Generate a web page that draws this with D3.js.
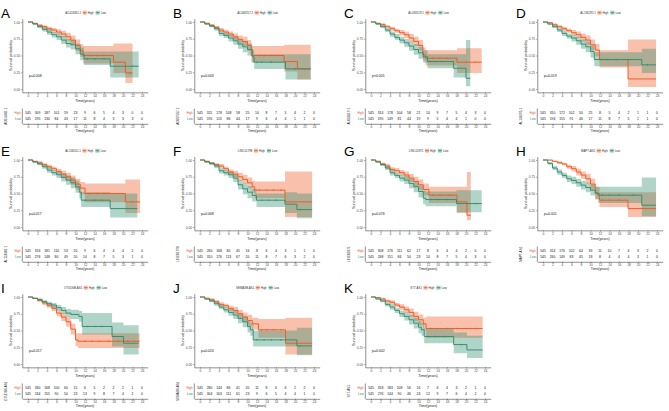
<!DOCTYPE html>
<html>
<head>
<meta charset="utf-8">
<script src="https://cdn.jsdelivr.net/npm/d3@7"></script>
<style>
  body { margin: 0; background: #fff; }
  svg { display: block; }
  text { font-family: "Liberation Sans", Arial, sans-serif; }
</style>
</head>
<body>
<svg width="669" height="411"></svg>
<script>
// ### Data
var letters = ["A","B","C","D","E","F","G","H","I","J","K"];
var genes = ["AC024361.1","AC069257.1","AL033519.1","AL136295.1","AL158201.1","LINC01798",
             "LINC01871","MAPT-AS1","OTUD6B-AS1","SEMA3B-AS1","ST7-AS1"];
var pvals = ["p=0.008","p=0.043","p<0.001","p=0.019","p=0.017","p=0.068",
             "p=0.076","p=0.001","p=0.017","p=0.024","p=0.002"];
var riskTimes = [0,2,4,6,8,10,12,14,16,18,20,22,24];
var riskHigh = [
  [545,309,187,101,59,23,9,6,5,4,3,0,0],
  [545,311,178,108,58,25,10,8,7,5,4,2,0],
  [545,314,178,104,58,21,10,9,7,5,4,3,0],
  [545,310,172,102,50,25,8,5,4,2,1,1,0],
  [545,316,181,110,53,20,9,6,4,4,4,2,0],
  [545,260,168,80,45,16,8,6,4,3,1,1,0],
  [545,308,176,111,62,17,8,6,4,4,2,0,0],
  [545,314,176,102,64,33,11,10,7,4,3,2,0],
  [545,330,168,100,60,15,6,5,2,2,2,1,0],
  [545,280,144,86,41,20,11,8,6,6,2,2,0],
  [545,318,183,108,56,16,7,6,4,3,2,1,0]
];
var riskLow = [
  [545,195,130,84,43,17,11,8,4,3,3,3,0],
  [545,195,113,86,44,17,9,6,4,4,1,1,0],
  [545,195,149,81,44,19,9,5,4,4,1,0,0],
  [545,194,155,91,46,17,11,8,7,5,1,1,0],
  [545,276,148,80,49,20,10,8,7,5,3,1,0],
  [545,310,176,113,67,20,11,8,7,6,3,2,0],
  [545,268,151,84,50,23,10,8,7,5,4,3,0],
  [545,260,149,83,45,18,8,4,4,4,3,1,0],
  [545,244,155,90,50,23,13,9,8,7,4,2,0],
  [545,304,163,111,61,23,9,6,5,4,4,1,0],
  [545,276,144,90,46,24,12,9,7,6,4,2,0]
];
// [time, survival, lower CI, upper CI]
var survHigh = [
  [[0,1,1,1],[1,.98,.97,.99],[2,.95,.93,.97],[3,.93,.90,.95],[4,.90,.87,.93],[5,.88,.84,.91],[6,.85,.81,.89],[7,.82,.77,.87],[8,.78,.72,.84],[9,.73,.66,.80],[10,.65,.57,.74],[11,.57,.48,.67],[11.6,.50,.38,.64],[18,.40,.24,.68],[20.5,.24,.09,.68],[22,.24,.09,.68]],
  [[0,1,1,1],[1,.98,.97,.99],[2,.95,.93,.97],[3,.92,.90,.94],[4,.88,.85,.91],[5,.85,.81,.88],[6,.82,.78,.86],[7,.78,.73,.83],[8,.74,.68,.80],[9,.71,.64,.78],[10,.65,.57,.73],[10.8,.50,.40,.64],[17.7,.41,.26,.66],[20.5,.30,.14,.66],[23.3,.30,.14,.66]],
  [[0,1,1,1],[1,.98,.97,.99],[2,.96,.94,.98],[3,.93,.91,.95],[4,.90,.87,.93],[5,.87,.84,.90],[6,.84,.80,.88],[7,.81,.76,.86],[8,.76,.70,.82],[9,.71,.64,.78],[10,.65,.57,.73],[10.9,.51,.42,.62],[11.5,.46,.35,.58],[18.1,.40,.24,.61],[23.3,.40,.24,.61]],
  [[0,1,1,1],[1,.99,.98,1],[2,.96,.94,.98],[3,.93,.91,.95],[4,.90,.87,.93],[5,.87,.84,.90],[6,.84,.80,.88],[7,.81,.76,.86],[8,.77,.71,.83],[9,.73,.66,.80],[10,.66,.58,.74],[11,.58,.49,.67],[11.9,.44,.32,.58],[17.9,.15,.03,.74],[23.8,.15,.03,.74]],
  [[0,1,1,1],[1,.98,.97,.99],[2,.96,.94,.98],[3,.93,.91,.95],[4,.90,.87,.93],[5,.87,.84,.90],[6,.83,.79,.87],[7,.79,.74,.84],[8,.75,.69,.81],[9,.70,.63,.77],[10,.64,.56,.72],[11,.58,.49,.67],[12,.50,.37,.65],[20.5,.375,.21,.71],[23.6,.375,.21,.71]],
  [[0,1,1,1],[1,.98,.97,.99],[2,.95,.93,.97],[3,.93,.91,.95],[4,.91,.88,.94],[5,.87,.84,.90],[6,.82,.78,.86],[7,.79,.74,.84],[8,.75,.69,.81],[9,.71,.64,.78],[10,.66,.58,.74],[11,.60,.51,.69],[11.5,.55,.43,.68],[17.9,.375,.15,.83],[23.6,.375,.15,.83]],
  [[0,1,1,1],[1,.98,.97,.99],[2,.94,.92,.96],[3,.91,.88,.94],[4,.86,.83,.89],[5,.84,.80,.88],[6,.81,.77,.85],[7,.775,.72,.83],[8,.73,.67,.79],[9,.68,.61,.75],[10,.63,.55,.71],[11,.56,.47,.65],[12.2,.475,.36,.60],[18.1,.375,.21,.60],[20.2,.175,.10,.82],[21,.175,.10,.82]],
  [[0,1,1,1],[1,1,.99,1],[2,.98,.97,.99],[3,.96,.94,.98],[4,.94,.92,.96],[5,.90,.87,.93],[6,.87,.83,.91],[7,.82,.77,.87],[8,.775,.72,.83],[9,.72,.65,.79],[10,.64,.56,.72],[11,.50,.41,.60],[11.9,.40,.30,.52],[17.9,.275,.15,.52],[23.8,.275,.15,.52]],
  [[0,1,1,1],[1,.98,.97,.99],[2,.95,.93,.97],[3,.91,.88,.94],[4,.87,.84,.90],[5,.83,.79,.87],[6,.76,.71,.81],[7,.70,.64,.76],[8,.63,.56,.70],[9,.52,.44,.60],[10,.36,.27,.46],[10.5,.34,.24,.46],[23.5,.34,.24,.46]],
  [[0,1,1,1],[1,.98,.97,.99],[2,.96,.94,.98],[3,.93,.91,.95],[4,.89,.86,.92],[5,.87,.84,.90],[6,.83,.79,.87],[7,.80,.75,.85],[8,.75,.69,.81],[9,.70,.63,.77],[10,.65,.57,.73],[11,.60,.51,.69],[12.3,.51,.39,.67],[18,.31,.14,.69],[23.6,.31,.14,.69]],
  [[0,1,1,1],[1,.99,.98,1],[2,.97,.95,.99],[3,.94,.92,.96],[4,.92,.89,.95],[5,.88,.85,.91],[6,.85,.81,.89],[7,.81,.76,.86],[8,.77,.71,.83],[9,.71,.64,.78],[10,.66,.58,.74],[11,.60,.51,.69],[11.6,.53,.39,.71],[23.5,.53,.39,.71]]
];
var survLow = [
  [[0,1,1,1],[1,.97,.96,.98],[2,.93,.91,.95],[3,.89,.86,.92],[4,.85,.81,.89],[5,.81,.77,.85],[6,.78,.73,.83],[7,.73,.67,.79],[8,.68,.62,.75],[9,.66,.59,.73],[10,.60,.52,.68],[11,.52,.43,.62],[11.8,.45,.36,.56],[17.3,.34,.17,.56],[23.3,.34,.17,.56]],
  [[0,1,1,1],[1,.97,.96,.98],[2,.94,.92,.96],[3,.90,.87,.93],[4,.83,.79,.87],[5,.80,.76,.84],[6,.76,.71,.81],[7,.72,.66,.78],[8,.67,.60,.74],[9,.63,.55,.71],[10,.59,.50,.68],[11,.48,.39,.58],[11.4,.40,.30,.52],[18,.30,.14,.52],[23.3,.30,.14,.52]],
  [[0,1,1,1],[1,.97,.96,.98],[2,.93,.91,.95],[3,.88,.85,.91],[4,.82,.78,.86],[5,.77,.73,.82],[6,.73,.68,.78],[7,.69,.63,.75],[8,.64,.57,.71],[9,.59,.51,.67],[10,.54,.45,.63],[11,.48,.39,.58],[11.9,.41,.31,.52],[17.4,.31,.17,.52],[20,.16,.04,.73],[20.9,.16,.04,.73]],
  [[0,1,1,1],[1,.97,.96,.98],[2,.93,.91,.95],[3,.88,.85,.91],[4,.83,.79,.87],[5,.79,.75,.83],[6,.76,.71,.81],[7,.72,.66,.78],[8,.67,.60,.74],[9,.63,.55,.71],[10,.56,.47,.65],[10.8,.44,.34,.55],[20.8,.36,.24,.60],[23.8,.36,.24,.60]],
  [[0,1,1,1],[1,.97,.96,.98],[2,.94,.92,.96],[3,.90,.87,.93],[4,.85,.81,.89],[5,.81,.77,.85],[6,.78,.73,.83],[7,.74,.68,.80],[8,.70,.63,.77],[9,.66,.58,.74],[10,.60,.51,.69],[10.8,.52,.43,.62],[11.2,.40,.30,.52],[17.3,.275,.14,.50],[23,.275,.14,.50]],
  [[0,1,1,1],[1,.97,.96,.98],[2,.95,.93,.97],[3,.91,.88,.94],[4,.84,.80,.88],[5,.81,.77,.85],[6,.78,.73,.83],[7,.73,.67,.79],[8,.63,.56,.70],[9,.57,.49,.65],[10,.52,.43,.61],[11,.47,.38,.57],[11.9,.40,.30,.50],[17.9,.34,.21,.52],[20.4,.26,.13,.50],[23.6,.26,.13,.50]],
  [[0,1,1,1],[1,.97,.96,.98],[2,.93,.91,.95],[3,.88,.85,.91],[4,.81,.77,.85],[5,.77,.73,.81],[6,.73,.68,.78],[7,.70,.64,.76],[8,.65,.58,.72],[9,.60,.52,.68],[10,.53,.44,.62],[11,.43,.34,.54],[11.5,.41,.31,.53],[18,.35,.22,.55],[23.3,.35,.22,.55]],
  [[0,1,1,1],[1,.95,.93,.97],[2,.88,.85,.91],[3,.82,.78,.86],[4,.77,.73,.81],[5,.72,.67,.77],[6,.695,.64,.75],[7,.66,.60,.72],[8,.625,.56,.69],[9,.59,.52,.66],[10,.55,.47,.63],[11,.51,.42,.60],[11.6,.475,.36,.60],[20.8,.325,.16,.74],[23.8,.325,.16,.74]],
  [[0,1,1,1],[1,.98,.97,.99],[2,.96,.94,.98],[3,.93,.91,.95],[4,.90,.87,.93],[5,.88,.84,.91],[6,.84,.80,.88],[7,.80,.75,.85],[8,.76,.70,.82],[9,.74,.67,.81],[10.7,.71,.63,.79],[11.4,.56,.44,.76],[17.7,.41,.26,.62],[20.1,.31,.14,.58],[23.3,.31,.14,.58]],
  [[0,1,1,1],[1,.97,.96,.98],[2,.94,.92,.96],[3,.90,.87,.93],[4,.85,.82,.88],[5,.81,.77,.85],[6,.77,.72,.82],[7,.73,.67,.79],[8,.68,.61,.75],[9,.63,.55,.71],[10,.56,.47,.65],[10.6,.51,.42,.61],[11.2,.36,.26,.50],[20.4,.27,.13,.54],[23.6,.27,.13,.54]],
  [[0,1,1,1],[1,.97,.96,.98],[2,.94,.92,.96],[3,.89,.86,.92],[4,.85,.81,.89],[5,.80,.76,.84],[6,.75,.70,.80],[7,.71,.65,.77],[8,.66,.59,.73],[9,.61,.53,.69],[10,.55,.46,.64],[10.6,.51,.42,.61],[11.2,.41,.31,.53],[17.4,.29,.16,.47],[20.2,.21,.09,.42],[23.5,.21,.09,.42]]
];
// censoring times
var censHigh = [[13,14.5,16,21.5],[12.5,13.5,15],[13,14.5,16,20,22],[12.5,14,15.5],[13,14.5,16,22],
  [12.5,14,15.5,17],[13,14.5,16.5],[12.5,14,16],[12,13.5,15,17,19,21],[13,14,15.5,17],[12.5,14,16,18,20,22]];
var censLow = [[12.5,14,16,22],[12,13,15,20],[12.5,13.5,15],[12,13.5,18,22],[12,14,15.5,21],
  [13,14.5,16,21],[12.5,14,16,22],[12.5,14,16,19],[12.5,14,15.5,18],[12,13.5,15,17,21],[12,13.5,15.5,19]];

// ### Layout
var svg = d3.select("svg");
var colX = [0, 172, 343, 515],
    rowY = [0, 138, 275];
var colHigh = "#EE5A24", colLow = "#2F8F6E";
var axisCol = "#333", tickTxt = "#4d4d4d";

var x = d3.scaleLinear().domain([-1.2, 25.2]).range([22.3, 147.7]);
var y = d3.scaleLinear().domain([-0.05, 1.05]).range([92.35, 18.65]);

function survAt(pts, t) {
  var s = 1;
  pts.forEach(function(p) { if (p[0] <= t) s = p[1]; });
  return s;
}

function styleAxis(ax) {
  ax.select(".domain").attr("stroke", axisCol).attr("stroke-width", 0.55);
  ax.selectAll(".tick line").attr("stroke", axisCol).attr("stroke-width", 0.45);
  ax.selectAll(".tick text").attr("font-size", 3.3).attr("fill", tickTxt)
    .attr("font-family", "Liberation Sans, Arial, sans-serif");
}

function drawPanel(g, i) {
  // letter
  g.append("text").attr("x", 1).attr("y", 18).attr("font-size", 13.5)
    .attr("fill", "#000").text(letters[i]);

  // legend
  var lg = g.append("g");
  var t0 = lg.append("text").attr("x", 0).attr("y", 1.1).attr("font-size", 2.9)
    .attr("fill", "#333").text(genes[i]);
  var cx = t0.node().getComputedTextLength() + 1.5;
  [["High", colHigh], ["Low", colLow]].forEach(function(k) {
    lg.append("rect").attr("x", cx).attr("y", -2).attr("width", 4).attr("height", 4)
      .attr("fill", k[1]).attr("fill-opacity", 0.38);
    lg.append("line").attr("x1", cx).attr("x2", cx + 4).attr("y1", 0).attr("y2", 0)
      .attr("stroke", k[1]).attr("stroke-width", 0.8);
    lg.append("line").attr("x1", cx + 2).attr("x2", cx + 2).attr("y1", -0.9).attr("y2", 0.9)
      .attr("stroke", k[1]).attr("stroke-width", 0.45);
    var lt = lg.append("text").attr("x", cx + 5).attr("y", 1.1).attr("font-size", 2.9)
      .attr("fill", "#333").text(k[0]);
    cx += 5 + lt.node().getComputedTextLength() + 2;
  });
  var bw = lg.node().getBBox().width;
  lg.attr("transform", "translate(" + (86 - bw / 2) + ",12.7)");

  // bands and curves
  var area = d3.area().curve(d3.curveStepAfter)
    .x(function(d) { return x(d[0]); })
    .y0(function(d) { return y(d[2]); })
    .y1(function(d) { return y(d[3]); });
  var line = d3.line().curve(d3.curveStepAfter)
    .x(function(d) { return x(d[0]); })
    .y(function(d) { return y(d[1]); });

  var groups = [[survHigh[i], censHigh[i], colHigh], [survLow[i], censLow[i], colLow]];
  groups.forEach(function(s) {
    g.append("path").datum(s[0]).attr("d", area)
      .attr("fill", s[2]).attr("fill-opacity", 0.38).attr("stroke", "none");
  });
  groups.forEach(function(s) {
    g.append("path").datum(s[0]).attr("d", line)
      .attr("fill", "none").attr("stroke", s[2]).attr("stroke-width", 0.95);
    g.selectAll(null).data(s[1]).enter().append("path")
      .attr("transform", function(t) { return "translate(" + x(t) + "," + y(survAt(s[0], t)) + ")"; })
      .attr("d", "M-0.9,0H0.9M0,-0.9V0.9")
      .attr("stroke", s[2]).attr("stroke-width", 0.45);
  });

  // axes
  var ay = g.append("g").attr("transform", "translate(" + x(-1.2) + ",0)")
    .call(d3.axisLeft(y).tickValues([0, 0.25, 0.5, 0.75, 1]).tickFormat(d3.format(".2f"))
      .tickSize(1.2).tickSizeOuter(0).tickPadding(1));
  styleAxis(ay);
  var ax = g.append("g").attr("transform", "translate(0," + y(-0.05) + ")")
    .call(d3.axisBottom(x).tickValues(riskTimes).tickSize(1.2).tickSizeOuter(0).tickPadding(1));
  styleAxis(ax);

  g.append("text").attr("transform", "translate(11.5,55.5) rotate(-90)")
    .attr("text-anchor", "middle").attr("font-size", 3.7).attr("fill", "#222")
    .text("Survival probability");
  g.append("text").attr("x", 85).attr("y", 101.5).attr("text-anchor", "middle")
    .attr("font-size", 3.7).attr("fill", "#222").text("Time(years)");
  g.append("text").attr("x", x(0.2)).attr("y", y(0.2) + 1.2).attr("font-size", 3.5)
    .attr("fill", "#111").text(pvals[i]);

  // risk table
  var rows = [["High", riskHigh[i], colHigh, 113.2], ["Low", riskLow[i], colLow, 119.2]];
  rows.forEach(function(r) {
    g.selectAll(null).data(r[1]).enter().append("text")
      .attr("x", function(d, j) { return x(riskTimes[j]); })
      .attr("y", r[3]).attr("text-anchor", "middle").attr("dominant-baseline", "central")
      .attr("font-size", 3.4).attr("fill", "#111")
      .text(function(d) { return d; });
    g.append("text").attr("x", 20.8).attr("y", r[3]).attr("text-anchor", "end")
      .attr("dominant-baseline", "central").attr("font-size", 3.1).attr("fill", r[2]).text(r[0]);
  });
  g.append("line").attr("x1", x(-1.2)).attr("x2", x(-1.2)).attr("y1", 108.5).attr("y2", 123.8)
    .attr("stroke", axisCol).attr("stroke-width", 0.55);
  var at = g.append("g").attr("transform", "translate(0,123.8)")
    .call(d3.axisBottom(x).tickValues(riskTimes).tickSize(1.2).tickSizeOuter(0).tickPadding(1));
  styleAxis(at);
  g.append("text").attr("x", 85).attr("y", 132.3).attr("text-anchor", "middle")
    .attr("font-size", 3.5).attr("fill", "#222").text("Time(years)");
  g.append("text").attr("transform", "translate(6,116.2) rotate(-90)")
    .attr("text-anchor", "middle").attr("dominant-baseline", "central")
    .attr("font-size", 3.1).attr("fill", "#222").text(genes[i]);
}

letters.forEach(function(L, i) {
  var g = svg.append("g")
    .attr("transform", "translate(" + colX[i % 4] + "," + rowY[Math.floor(i / 4)] + ")");
  drawPanel(g, i);
});
</script>
</body>
</html>
